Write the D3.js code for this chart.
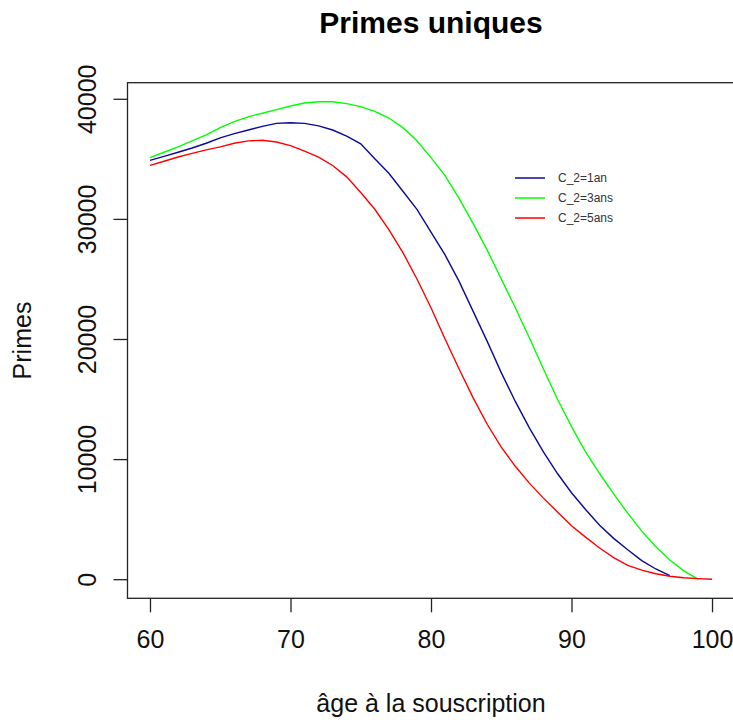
<!DOCTYPE html>
<html>
<head>
<meta charset="utf-8">
<script src="https://cdn.jsdelivr.net/npm/d3@7"></script>
<style>
  body { margin: 0; background: #fff; }
  svg { display: block; }
</style>
</head>
<body>
<div id="chart"></div>
<script>
// ages (x axis)
const ages = [60, 61, 62, 63, 64, 65, 66, 67, 68, 69,
  70, 71, 72, 73, 74, 75, 76, 77, 78, 79,
  80, 81, 82, 83, 84, 85, 86, 87, 88, 89,
  90, 91, 92, 93, 94, 95, 96, 97, 98, 99, 100];

// C_2 = 1an (stops at 97)
const prime1an = [34870, 35200, 35550, 35900, 36300, 36750, 37100, 37400, 37700, 37950,
  38000, 37950, 37750, 37400, 36900, 36250, 35000, 33800, 32300, 30800,
  28900, 27000, 24800, 22300, 19800, 17200, 14800, 12600, 10600, 8800,
  7200, 5800, 4500, 3400, 2450, 1550, 850, 300];

// C_2 = 3ans (stops at 99)
const prime3ans = [35100, 35550, 36000, 36500, 37000, 37600, 38100, 38500, 38800, 39100,
  39400, 39650, 39750, 39750, 39600, 39350, 38950, 38400, 37600, 36500,
  35100, 33600, 31700, 29600, 27400, 25000, 22600, 20100, 17500, 15000,
  12700, 10600, 8800, 7100, 5500, 4000, 2700, 1600, 700, 0];

// C_2 = 5ans (up to 100)
const prime5ans = [34460, 34800, 35150, 35450, 35750, 36000, 36300, 36500, 36550, 36400,
  36100, 35650, 35150, 34450, 33500, 32200, 30800, 29100, 27200, 25000,
  22600, 20000, 17500, 15100, 12900, 11000, 9400, 8000, 6750, 5600,
  4450, 3500, 2600, 1800, 1150, 750, 450, 250, 120, 50, 0];

const xTicks = [60, 70, 80, 90, 100];
const yTicks = [0, 10000, 20000, 30000, 40000];

const seriesNames = ["C_2=1an", "C_2=3ans", "C_2=5ans"];
const seriesColors = ["#0a0a96", "#00ff00", "#ff0000"];

const width = 733, height = 722;
const font = "Arial, 'Liberation Sans', sans-serif";

// plot box (R style: 4% padding around data range)
const boxLeft = 127.5, boxRight = 734.5, boxTop = 82.7, boxBottom = 598.3;

const x = d3.scaleLinear().domain([58.4, 101.6]).range([boxLeft, boxRight]);
const y = d3.scaleLinear().domain([-1590, 41340]).range([boxBottom, boxTop]);

const svg = d3.select("#chart").append("svg")
  .attr("width", width)
  .attr("height", height)
  .attr("font-family", font);

const series = [prime1an, prime3ans, prime5ans].map((vals, i) => ({
  name: seriesNames[i],
  color: seriesColors[i],
  points: vals.map((v, j) => [ages[j], v])
}));

const line = d3.line().x(d => x(d[0])).y(d => y(d[1]));

const plot = svg.append("g");
series.forEach(s => {
  plot.append("path")
    .datum(s.points)
    .attr("fill", "none")
    .attr("stroke", s.color)
    .attr("stroke-width", 1.4)
    .attr("d", line);
});

// box
svg.append("rect")
  .attr("x", boxLeft).attr("y", boxTop)
  .attr("width", boxRight - boxLeft).attr("height", boxBottom - boxTop)
  .attr("fill", "none")
  .attr("stroke", "#222")
  .attr("stroke-width", 1.3);

// x axis
const xAxis = svg.append("g")
  .attr("transform", `translate(0,${boxBottom})`)
  .call(d3.axisBottom(x).tickValues(xTicks).tickSize(14).tickSizeOuter(0).tickPadding(18));
xAxis.select(".domain").remove();
xAxis.selectAll("line").attr("stroke", "#222").attr("stroke-width", 1.3);
xAxis.selectAll("text")
  .attr("font-family", font)
  .attr("font-size", 25)
  .attr("fill", "#111");

// y axis (labels parallel to axis, like R)
const yAxis = svg.append("g")
  .attr("transform", `translate(${boxLeft},0)`)
  .call(d3.axisLeft(y).tickValues(yTicks).tickSize(14).tickSizeOuter(0).tickFormat(d3.format("d")));
yAxis.select(".domain").remove();
yAxis.selectAll("line").attr("stroke", "#222").attr("stroke-width", 1.3);
yAxis.selectAll("text")
  .attr("font-family", font)
  .attr("font-size", 25)
  .attr("fill", "#111")
  .attr("x", null).attr("dy", null)
  .attr("text-anchor", "middle")
  .attr("transform", `translate(${96 - boxLeft},0) rotate(-90)`);

// titles
svg.append("text")
  .attr("x", (boxLeft + boxRight) / 2).attr("y", 33)
  .attr("text-anchor", "middle")
  .attr("font-size", 30).attr("font-weight", "bold")
  .text("Primes uniques");

svg.append("text")
  .attr("x", (boxLeft + boxRight) / 2).attr("y", 712)
  .attr("text-anchor", "middle")
  .attr("font-size", 25).attr("fill", "#111")
  .text("âge à la souscription");

svg.append("text")
  .attr("transform", `translate(31,${(boxTop + boxBottom) / 2}) rotate(-90)`)
  .attr("text-anchor", "middle")
  .attr("font-size", 25).attr("fill", "#111")
  .text("Primes");

// legend, no box
const legend = svg.append("g").attr("transform", "translate(515,178)");
series.forEach((s, i) => {
  const row = legend.append("g").attr("transform", `translate(0,${i * 20})`);
  row.append("line")
    .attr("x1", 0).attr("x2", 30)
    .attr("stroke", s.color).attr("stroke-width", 1.5);
  row.append("text")
    .attr("x", 43).attr("dy", "0.35em")
    .attr("font-size", 12).attr("fill", "#333")
    .text(s.name);
});
</script>
</body>
</html>
